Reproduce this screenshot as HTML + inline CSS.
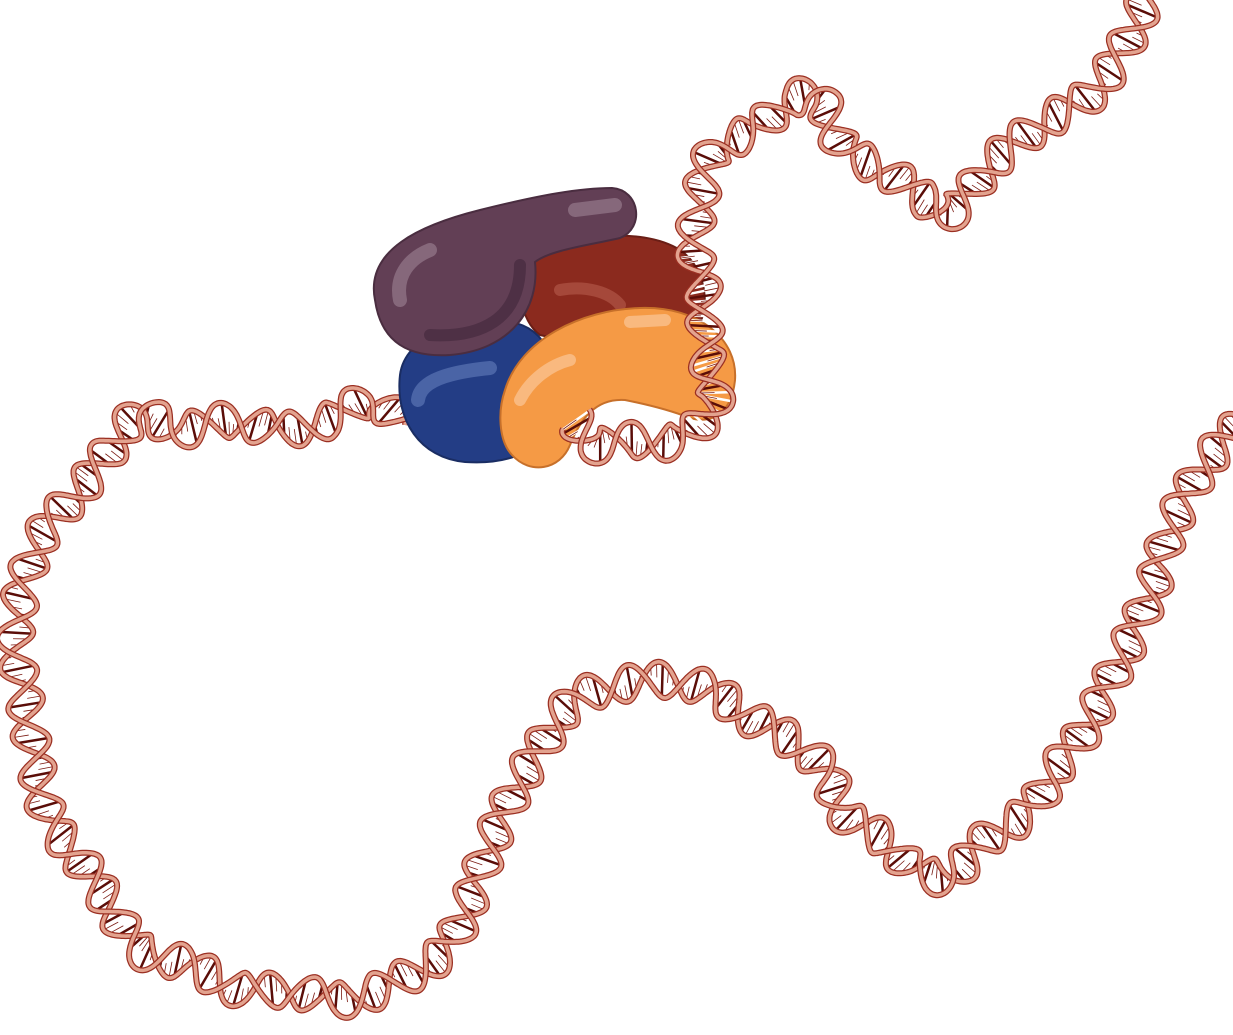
<!DOCTYPE html>
<html><head><meta charset="utf-8">
<style>
html,body{margin:0;padding:0;background:#fff;}
svg{display:block;}
</style></head>
<body>
<svg id="scene" width="1233" height="1035" viewBox="0 0 1233 1035" xmlns="http://www.w3.org/2000/svg">
  <g id="dna"></g>
  <g id="proteins">
    <path d="M530,262 C560,235 640,225 680,250 C710,270 712,320 690,335 C650,345 580,345 540,335 C520,320 515,285 530,262 Z" fill="#8b2a1e" stroke="#6a1e16" stroke-width="2"/>
    <path d="M560,290 C585,285 610,292 620,305" stroke="#a5483a" stroke-width="12" fill="none" stroke-linecap="round"/>
    <path d="M400,375 C405,335 460,318 510,322 C550,328 560,370 555,410 C550,450 510,465 465,462 C420,458 395,420 400,375 Z" fill="#233d85" stroke="#1a2d63" stroke-width="2"/>
    <path d="M418,400 C420,380 450,372 490,368" stroke="#4a64a6" stroke-width="14" fill="none" stroke-linecap="round"/>
    <path d="M375,300 C365,250 420,225 480,210 C540,195 580,188 612,188 C640,190 645,228 620,238 C590,245 550,250 535,262 C540,310 510,350 450,355 C400,358 380,335 375,300 Z" fill="#623f55" stroke="#4a2d40" stroke-width="2"/>
    <path d="M400,300 C395,275 410,258 430,250 M575,210 L615,205" stroke="#86687b" stroke-width="14" fill="none" stroke-linecap="round"/>
    <path d="M430,335 C480,338 520,320 520,265" stroke="#4e3045" stroke-width="12" fill="none" stroke-linecap="round"/>
    <path d="M505,390 C520,340 580,310 640,308 C700,306 738,340 735,380 C732,410 715,425 690,418 C670,410 650,405 625,400 C595,398 580,420 570,445 C560,470 530,475 512,455 C498,440 498,410 505,390 Z" fill="#f59a45" stroke="#c7702a" stroke-width="2"/>
    <path d="M520,400 C530,380 550,365 570,360 M630,322 L665,320" stroke="#f9b97f" stroke-width="12" fill="none" stroke-linecap="round"/>
  </g>
  <g id="dnaTop"></g>
</svg>
<script>
const pathA = [[1150,-10],[1125,45],[1090,95],[1040,125],[990,165],[955,210],[925,200],[885,170],[845,150],[820,100],[790,100],[755,130],[715,150],[700,200],[695,250],[705,300],[705,350],[715,400],[680,440],[630,440],[595,445],[575,420]];
const pathB = [[405,425],[370,400],[330,420],[280,430],[230,420],[180,430],[140,415],[110,450],[80,490],[45,530],[25,580],[15,640],[25,700],[35,760],[50,820],[80,860],[110,905],[140,950],[190,965],[240,990],[290,990],[345,1000],[400,980],[445,950],[470,900],[490,845],[515,790],[545,740],[575,700],[620,685],[665,680],[710,690],[745,715],[790,740],[825,770],[845,815],[885,840],[915,870],[950,875],[985,840],[1030,810],[1055,770],[1085,730],[1110,680],[1135,630],[1155,580],[1170,530],[1195,480],[1220,445],[1245,420]];
const NS='http://www.w3.org/2000/svg';
function sample(pts){
  const out=[];
  for(let i=0;i<pts.length-1;i++){
    const p0=pts[Math.max(0,i-1)],p1=pts[i],p2=pts[i+1],p3=pts[Math.min(pts.length-1,i+2)];
    for(let t=0;t<1;t+=0.02){
      const t2=t*t,t3=t2*t;
      const f=(a,b,c,d)=>0.5*((2*b)+(-a+c)*t+(2*a-5*b+4*c-d)*t2+(-a+3*b-3*c+d)*t3);
      out.push([f(p0[0],p1[0],p2[0],p3[0]),f(p0[1],p1[1],p2[1],p3[1])]);
    }
  }
  out.push(pts[pts.length-1]);
  return out;
}
function drawHelix(g,pts){
  const s=sample(pts);
  let L=0;const A=18,P=70;
  const s1=[],s2=[],rungs=[];
  let lastR=0;
  for(let i=0;i<s.length;i++){
    const a=s[Math.max(0,i-2)],b=s[Math.min(s.length-1,i+2)];
    if(i>0){L+=Math.hypot(s[i][0]-s[i-1][0],s[i][1]-s[i-1][1]);}
    let dx=b[0]-a[0],dy=b[1]-a[1];const d=Math.hypot(dx,dy)||1;
    const nx=-dy/d,ny=dx/d;
    const o1=A*Math.sin(2*Math.PI*L/P),o2=A*Math.sin(2*Math.PI*L/P+Math.PI*0.8);
    const q1=[s[i][0]+nx*o1,s[i][1]+ny*o1],q2=[s[i][0]+nx*o2,s[i][1]+ny*o2];
    s1.push(q1);s2.push(q2);
    if(L-lastR>5){lastR=L;rungs.push([q1,q2,rungs.length]);}
  }
  rungs.forEach(r=>{
    const l=document.createElementNS(NS,'line');
    
    
    l.setAttribute('x1',r[0][0]);l.setAttribute('y1',r[0][1]);
    l.setAttribute('x2',r[1][0]);l.setAttribute('y2',r[1][1]);
    l.setAttribute('stroke',r[2]%3==0?'#5a0d08':'#ffffff');
    l.setAttribute('stroke-width','2.5');
    g.appendChild(l);
    if(r[2]%3!=0){
      const k=document.createElementNS(NS,'line');
      
      
      const mx=(r[0][0]+r[1][0])/2,my=(r[0][1]+r[1][1])/2;
      k.setAttribute('x1',r[0][0]);k.setAttribute('y1',r[0][1]);
      k.setAttribute('x2',mx);k.setAttribute('y2',my);
      k.setAttribute('stroke','#7a1a12');k.setAttribute('stroke-width','0.8');
      g.appendChild(k);
    }
  });
  [s1,s2].forEach((st,j)=>{
    const d='M'+st.map(p=>p[0].toFixed(1)+','+p[1].toFixed(1)).join('L');
    const o=document.createElementNS(NS,'path');
    
    
    o.setAttribute('d',d);o.setAttribute('fill','none');
    o.setAttribute('stroke','#9b2f22');o.setAttribute('stroke-width','6');
    g.appendChild(o);
    const f=document.createElementNS(NS,'path');
    
    
    f.setAttribute('d',d);f.setAttribute('fill','none');
    f.setAttribute('stroke','#e3a38f');f.setAttribute('stroke-width','3.5');
    g.appendChild(f);
  });
}
drawHelix(document.getElementById('dna'),pathB);
drawHelix(document.getElementById('dnaTop'),pathA);
</script>
</body></html>
